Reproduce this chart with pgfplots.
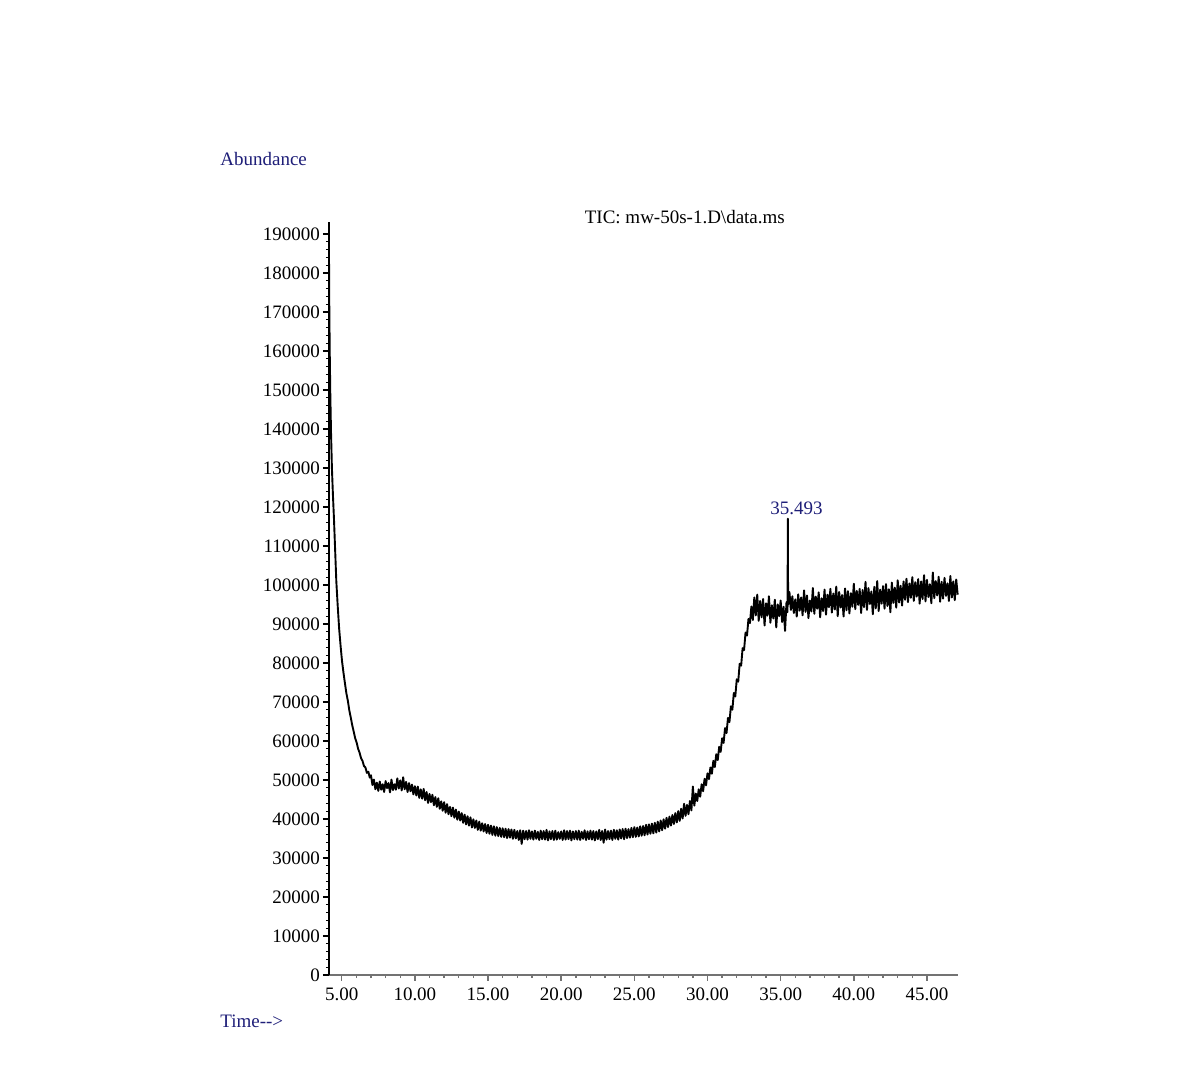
\documentclass[border=0pt]{standalone}
\usepackage{fontspec}
\setmainfont{Liberation Serif}
\usepackage{pgfplots}
\pgfplotsset{compat=1.18}
\definecolor{navyt}{RGB}{30,30,120}
\begin{document}
\begin{tikzpicture}
\begin{axis}[name=ax, scale only axis, width=314.4pt, height=376.4pt,
 xmin=4.13, xmax=47.1, ymin=0, ymax=193000,
 axis x line=bottom, axis y line=left, axis line style={-},
 x axis line style={draw=black!55, line width=1.1pt},
 y axis line style={draw=black, line width=0.7pt},
 xtick={5,10,...,45}, ytick={0,10000,...,190000},
 minor x tick num=4, minor y tick num=4,
 tick align=outside, major tick length=3pt, minor tick length=1.6pt,
 xtick style={draw=black!55, line width=0.7pt},
 ytick style={draw=black, line width=0.6pt},
 xticklabel style={/pgf/number format/.cd, fixed, fixed zerofill, precision=2},
 yticklabel style={xshift=2pt, /pgf/number format/.cd, fixed, set thousands separator={}},
 /pgf/number format/assume math mode=true,
 scaled ticks=false,
 tick label style={font=\fontsize{9.5}{11}\selectfont},
 clip=false]
\path (rel axis cs:-0.5233,-0.1355) rectangle (rel axis cs:1.3695,1.2953);
\addplot[black, line width=0.95pt, line join=round, mark=none] coordinates {
(4.13,185000) (4.15,172000) (4.18,160000) (4.22,149000) (4.27,139000) (4.33,130000)
(4.40,123000) (4.47,117000) (4.55,109000) (4.63,101000) (4.72,95000) (4.82,89000)
(4.92,84500) (5.02,80500) (5.12,77500) (5.22,74800) (5.32,72200) (5.42,70300)
(5.52,67800) (5.62,66000) (5.72,64000) (5.82,62400) (5.92,60700) (6.02,59600)
(6.12,58000) (6.22,57000) (6.32,55600) (6.42,54900) (6.52,53600) (6.62,53200)
(6.72,51800) (6.82,52100) (6.92,50600)
(7.0,51200) (7.1,48700) (7.2,50100) (7.3,47600) (7.4,49300) (7.5,47200) (7.6,49600) (7.7,47500) (7.8,48900) (7.9,46900)
(8.0,49700) (8.1,47900) (8.2,49200) (8.3,46800) (8.4,50100) (8.5,47400) (8.6,48900) (8.7,47500) (8.8,50400) (8.9,47800)
(9.0,49900) (9.1,47300) (9.2,50700) (9.3,47600) (9.4,49500) (9.5,46900) (9.6,49200) (9.7,47100) (9.8,48800) (9.9,46300)
(10.0,48400) (10.1,46000) (10.2,48300) (10.3,45400) (10.4,47600) (10.5,45200) (10.6,47700) (10.7,44800) (10.8,46900) (10.9,44100)
(11.0,46400) (11.1,44300) (11.2,46200) (11.3,43500) (11.4,45600) (11.5,43100) (11.6,45300) (11.7,42600) (11.8,44500) (11.9,42100)
(12.0,44300) (12.1,41600) (12.2,43800) (12.3,41200) (12.4,43100) (12.5,40700) (12.6,42900) (12.7,40300) (12.8,42400) (12.9,39800)
(13.0,41900) (13.1,39600) (13.2,41500) (13.3,39000) (13.4,41100) (13.5,38600) (13.6,40700) (13.7,38300) (13.8,40400) (13.9,37800)
(14.0,39900) (14.1,37700) (14.2,39600) (14.3,37200) (14.4,39300) (14.5,37000) (14.6,38900) (14.7,36800) (14.8,38700) (14.9,36400)
(15.0,38500) (15.1,36200) (15.2,38300) (15.3,35900) (15.4,38100) (15.5,35700) (15.6,37900) (15.7,35600) (15.8,37700) (15.9,35400)
(16.0,37600) (16.1,35300) (16.2,37500) (16.3,35100) (16.4,37400) (16.5,35200) (16.6,37300) (16.7,34900) (16.8,37200) (16.9,35000)
(17.0,36900) (17.1,34600) (17.2,37100) (17.3,33600) (17.4,37000) (17.5,34800) (17.6,36900) (17.7,34700) (17.8,37100) (17.9,34900)
(18.0,36800) (18.1,34700) (18.2,37000) (18.3,34900) (18.4,36700) (18.5,34600) (18.6,37000) (18.7,34800) (18.8,36900) (18.9,34700)
(19.0,37200) (19.1,34500) (19.2,36800) (19.3,34800) (19.4,36900) (19.5,34600) (19.6,37000) (19.7,34700) (19.8,36600) (19.9,34900)
(20.0,36800) (20.1,34600) (20.2,37100) (20.3,34700) (20.4,36900) (20.5,34800) (20.6,37000) (20.7,34500) (20.8,36800) (20.9,34800)
(21.0,36900) (21.1,34700) (21.2,37000) (21.3,34600) (21.4,36700) (21.5,34900) (21.6,37100) (21.7,34600) (21.8,36800) (21.9,34800)
(22.0,37000) (22.1,34700) (22.2,36900) (22.3,34500) (22.4,36800) (22.5,34800) (22.6,37200) (22.7,34600) (22.8,36900) (22.9,33900)
(23.0,37300) (23.1,34700) (23.2,36900) (23.3,34800) (23.4,37000) (23.5,34600) (23.6,37200) (23.7,34900) (23.8,37100) (23.9,34700)
(24.0,37300) (24.1,35000) (24.2,37400) (24.3,34800) (24.4,37500) (24.5,35100) (24.6,37400) (24.7,35200) (24.8,37700) (24.9,35300)
(25.0,37900) (25.1,35400) (25.2,37800) (25.3,35500) (25.4,38100) (25.5,35700) (25.6,38200) (25.7,35800) (25.8,38500) (25.9,36000)
(26.0,38600) (26.1,36200) (26.2,38800) (26.3,36300) (26.4,39000) (26.5,36500) (26.6,39300) (26.7,36800) (26.8,39600) (26.9,37100)
(27.0,39900) (27.1,37500) (27.2,40300) (27.3,37900) (27.4,40600) (27.5,38300) (27.6,41000) (27.7,38700) (27.8,41500) (27.9,39100)
(28.0,42000) (28.1,39500) (28.2,42600) (28.3,40100) (28.4,43900) (28.5,40800) (28.6,43600) (28.7,41200) (28.8,44600) (28.9,42200)
(29.0,48300) (29.1,43400) (29.2,46500) (29.3,44600) (29.4,47600) (29.5,45700) (29.6,48900) (29.7,47100) (29.8,50300) (29.9,48600)
(30.0,51700) (30.1,50200) (30.2,53200) (30.3,51600) (30.4,54900) (30.5,53300) (30.6,56600) (30.7,55100) (30.8,58500) (30.9,57200)
(31.0,60700) (31.1,59500) (31.2,63300) (31.3,62000) (31.4,65900) (31.5,64800) (31.6,68900) (31.7,68000) (31.8,72300) (31.9,71400)
(32.0,75800) (32.1,75200) (32.2,79800) (32.3,79300) (32.4,83800) (32.5,83300) (32.6,87800) (32.7,87000) (32.8,91300) (32.9,90200)
(33.0,94500) (33.1,91000) (33.2,96800) (33.3,92200) (33.4,97500) (33.5,90800) (33.6,95900) (33.7,91700) (33.8,96400) (33.9,89600)
(34.0,95300) (34.1,92100) (34.2,97100) (34.3,90300) (34.4,94800) (34.5,91400) (34.6,96200) (34.7,89100) (34.8,95000) (34.9,92000)
(35.0,96000) (35.1,90500) (35.2,94400) (35.3,88200) (35.4,95600) (35.47,93000) (35.493,117000) (35.51,95000)
(35.6,98200) (35.7,93600) (35.8,97100) (35.9,92800) (36.0,96300) (36.1,91900) (36.2,97600) (36.3,93400) (36.4,96800) (36.5,92200)
(36.6,98600) (36.7,93100) (36.8,97300) (36.9,91500) (37.0,96000) (37.1,93200) (37.2,99200) (37.3,92600) (37.4,97000) (37.5,93900)
(37.6,98100) (37.7,91700) (37.8,96600) (37.9,93300) (38.0,98800) (38.1,92400) (38.2,97500) (38.3,94300) (38.4,99000) (38.5,92900)
(38.6,97800) (38.7,93700) (38.8,99600) (38.9,92000) (39.0,98200) (39.1,94200) (39.2,97400) (39.3,91900) (39.4,99100) (39.5,93500)
(39.6,98400) (39.7,92700) (39.8,97900) (39.9,94400) (40.0,100300) (40.1,93800) (40.2,98500) (40.3,94900) (40.4,99000) (40.5,92800)
(40.6,98700) (40.7,94300) (40.8,100800) (40.9,93600) (41.0,99200) (41.1,95100) (41.2,98300) (41.3,92500) (41.4,99500) (41.5,94000)
(41.6,101000) (41.7,93300) (41.8,98800) (41.9,95200) (42.0,99700) (42.1,93900) (42.2,100200) (42.3,94600) (42.4,98900) (42.5,93000)
(42.6,100600) (42.7,95400) (42.8,99300) (42.9,94200) (43.0,101200) (43.1,95500) (43.2,99800) (43.3,94700) (43.4,100900) (43.5,96200)
(43.6,101600) (43.7,95600) (43.8,100400) (43.9,96700) (44.0,102000) (44.1,95900) (44.2,100700) (44.3,97000) (44.4,101500) (44.5,95200)
(44.6,100900) (44.7,96400) (44.8,102500) (44.9,95800) (45.0,101300) (45.1,96900) (45.2,100200) (45.3,95300) (45.4,103200) (45.5,96600)
(45.6,101000) (45.7,97300) (45.8,102100) (45.9,95700) (46.0,100800) (46.1,96500) (46.2,101800) (46.3,97200) (46.4,100400) (46.5,95900)
(46.6,102300) (46.7,96800) (46.8,100900) (46.9,96100) (47.0,101400) (47.1,97500)
};
\node[navyt, anchor=base west, inner sep=0pt, font=\fontsize{9.5}{11}\selectfont, xshift=-9pt] at (axis cs:35.493,118000) {35.493};
\node[black, anchor=base, inner sep=0pt, font=\fontsize{9.5}{11}\selectfont] at (rel axis cs:0.566,0.998) {TIC: mw-50s-1.D\textbackslash data.ms};
\node[navyt, anchor=base west, inner sep=0pt, font=\fontsize{9.5}{11}\selectfont] at (rel axis cs:-0.1734,1.0748) {Abundance};
\node[navyt, anchor=base west, inner sep=0pt, font=\fontsize{9.5}{11}\selectfont] at (rel axis cs:-0.1734,-0.0704) {Time-{}->};
\end{axis}
\end{tikzpicture}
\end{document}
